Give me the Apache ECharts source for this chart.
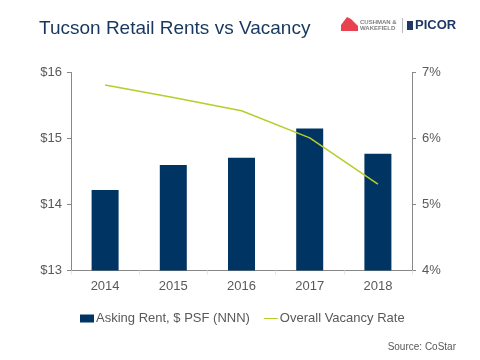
<!DOCTYPE html>
<html><head><meta charset="utf-8">
<script src="https://cdn.jsdelivr.net/npm/echarts@6/dist/echarts.min.js"></script>
<style>html,body{margin:0;padding:0;background:#fff}#c{width:480px;height:360px}</style>
</head><body><div id="c"></div>
<script>
const categories = ['2014', '2015', '2016', '2017', '2018'];
const askingRent = [14.22, 14.60, 14.71, 15.15, 14.77];
const vacancyRate = [6.81, 6.62, 6.42, 6.01, 5.31];
const rentTicks = [13, 16, 1];
const vacTicks = [4, 7, 1];

const chart = echarts.init(document.getElementById('c'), null, {renderer: 'canvas'});
const font = '"Liberation Sans", Arial, sans-serif';
const gray = '#595959';
chart.setOption({
  animation: false,
  backgroundColor: '#fff',
  textStyle: {fontFamily: font},
  grid: {left: 71, right: 68, top: 72.5, bottom: 89.5, containLabel: false},
  title: {
    text: 'Tucson Retail Rents vs Vacancy', left: 34, top: 14,
    textStyle: {fontFamily: font, fontSize: 19, fontWeight: 'normal', color: '#17375e'}
  },
  legend: {
    left: 75, top: 307, itemGap: 14, itemWidth: 14, itemHeight: 8,
    textStyle: {fontFamily: font, fontSize: 13, color: gray, padding: [0, 0, 0, -3]},
    data: [
      {name: 'Asking Rent, $ PSF (NNN)', icon: 'rect'},
      {name: 'Overall Vacancy Rate', icon: 'path://M0,4L14,4L14,5L0,5Z'}
    ]
  },
  xAxis: {
    type: 'category', data: categories, boundaryGap: true,
    axisLine: {lineStyle: {color: '#888', width: 1}},
    axisTick: {show: true, length: 4, lineStyle: {color: '#e4e4e4'}},
    axisLabel: {color: gray, fontSize: 13, fontFamily: font, margin: 9}
  },
  yAxis: [
    {
      type: 'value', min: rentTicks[0], max: rentTicks[1], interval: rentTicks[2],
      axisLine: {show: true, lineStyle: {color: '#888'}},
      axisTick: {show: true, length: 4, lineStyle: {color: '#888'}},
      splitLine: {show: false},
      axisLabel: {color: gray, fontSize: 13, fontFamily: font, margin: 9, formatter: v => '$' + v}
    },
    {
      type: 'value', min: vacTicks[0], max: vacTicks[1], interval: vacTicks[2], position: 'right',
      axisLine: {show: true, lineStyle: {color: '#888'}},
      axisTick: {show: true, length: 4, lineStyle: {color: '#888'}},
      splitLine: {show: false},
      axisLabel: {color: gray, fontSize: 13, fontFamily: font, margin: 10, formatter: v => v + '%'}
    }
  ],
  series: [
    {
      name: 'Asking Rent, $ PSF (NNN)', type: 'bar', data: askingRent, barWidth: 27,
      itemStyle: {color: '#003462'}
    },
    {
      name: 'Overall Vacancy Rate', type: 'line', yAxisIndex: 1, data: vacancyRate,
      symbol: 'none', lineStyle: {color: '#b8cc2a', width: 1.5}, itemStyle: {color: '#b8cc2a'}
    }
  ],
  graphic: [
    {type: 'polygon', shape: {points: [[341, 31], [341, 25], [347, 17], [351, 19], [354, 22], [358, 26], [358, 31]]}, style: {fill: '#e8414f'}},
    {type: 'text', left: 360, top: 19, style: {text: 'CUSHMAN &\nWAKEFIELD', fontSize: 6, lineHeight: 6.5, fill: '#7f7f7f', fontFamily: font, fontWeight: 'bold'}},
    {type: 'line', shape: {x1: 402.5, y1: 18, x2: 402.5, y2: 33}, style: {stroke: '#bbb', lineWidth: 1}},
    {type: 'rect', shape: {x: 407, y: 21, width: 6, height: 9}, style: {fill: '#1f3864'}},
    {type: 'text', left: 415, top: 19, style: {text: 'PICOR', fontSize: 13, fill: '#1f3864', fontFamily: font, fontWeight: 'bold'}},
    {type: 'text', right: 24, top: 342, style: {text: 'Source: CoStar', fontSize: 10, fill: gray, fontFamily: font}}
  ]
});
</script></body></html>
